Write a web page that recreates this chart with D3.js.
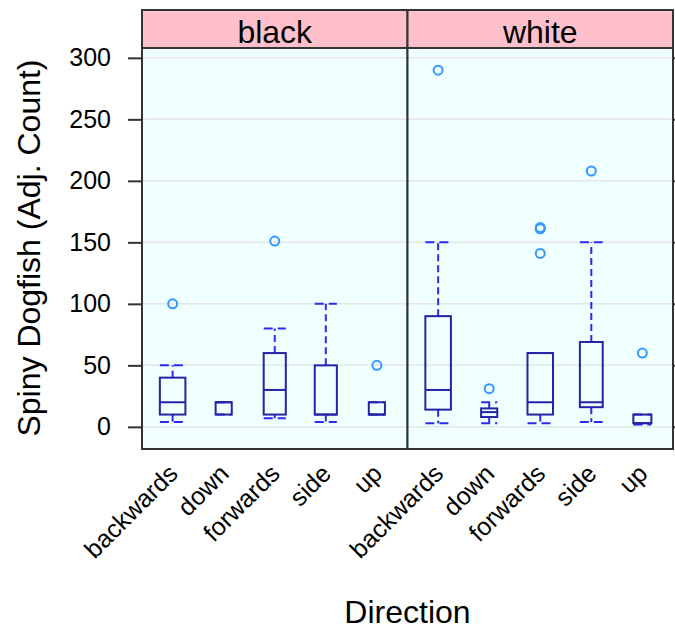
<!DOCTYPE html>
<html>
<head>
<meta charset="utf-8">
<script src="https://cdn.jsdelivr.net/npm/d3@7"></script>
<style>
  body { margin: 0; background: #ffffff; }
  text { font-family: "Liberation Sans", Arial, sans-serif; fill: #000; }
</style>
</head>
<body>
<script>
// ---------- data ----------
const panels = ["black", "white"];
const directions = ["backwards", "down", "forwards", "side", "up"];
const yTicks = [0, 50, 100, 150, 200, 250, 300];

// per panel (black, white), per direction
const whiskerLow  = [[4, 10, 7, 4, 10], [3, 3, 3, 4, 2]];
const quartile1   = [[10, 10, 10, 10, 10], [14, 8, 10, 16, 3]];
const medians     = [[20, 20, 30, 10, 10], [30, 12, 20, 20, 3]];
const quartile3   = [[40, 20, 60, 50, 20], [90, 15, 60, 69, 10]];
const whiskerHigh = [[50, 20, 80, 100, 20], [150, 20, 60, 150, 10]];
const groupCounts = [[20, 8, 15, 15, 8], [20, 8, 20, 16, 10]];
const outliers = [
  [[100], [], [151], [], [50]],
  [[290], [31], [141, 161, 162], [208], [60]]
];

// ---------- layout ----------
const W = 675, H = 633;
const panelLeft = 142, panelRight = 673;
const stripTop = 10, panelTop = 48, panelBottom = 449;
const panelW = (panelRight - panelLeft) / panels.length;

const svg = d3.select("body").append("svg")
  .attr("width", W).attr("height", H);

const y = d3.scaleLinear().domain([-18, 308]).range([panelBottom, panelTop]);
const maxCount = d3.max(groupCounts.flat());

panels.forEach((pname, p) => {
  const x0 = panelLeft + p * panelW;
  const x = d3.scalePoint().domain(directions).range([x0, x0 + panelW]).padding(0.6);
  const unit = x.step();
  const g = svg.append("g");

  // panel background
  g.append("rect").attr("x", x0).attr("y", panelTop)
    .attr("width", panelW).attr("height", panelBottom - panelTop)
    .attr("fill", "#f0ffff");

  // grid lines
  g.selectAll(".grid").data(yTicks).join("line")
    .attr("x1", x0).attr("x2", x0 + panelW)
    .attr("y1", d => y(d)).attr("y2", d => y(d))
    .attr("stroke", "#e6e6e6").attr("stroke-width", 1.5);

  // strip
  g.append("rect").attr("x", x0).attr("y", stripTop)
    .attr("width", panelW).attr("height", panelTop - stripTop)
    .attr("fill", "#ffc0cb").attr("stroke", "#333").attr("stroke-width", 2);
  g.append("text").attr("x", x0 + panelW / 2).attr("y", 43)
    .attr("text-anchor", "middle").attr("font-size", 32).text(pname);

  // boxes
  directions.forEach((dname, i) => {
    const cx = x(dname);
    const bw = 0.5 * unit * Math.sqrt(groupCounts[p][i] / maxCount);
    const bg = g.append("g");
    const dash = "7,4";
    const wcol = "#2b2bf0";
    // whiskers
    bg.append("line").attr("x1", cx).attr("x2", cx)
      .attr("y1", y(quartile3[p][i])).attr("y2", y(whiskerHigh[p][i]))
      .attr("stroke", wcol).attr("stroke-width", 2).attr("stroke-dasharray", dash);
    bg.append("line").attr("x1", cx).attr("x2", cx)
      .attr("y1", y(quartile1[p][i])).attr("y2", y(whiskerLow[p][i]))
      .attr("stroke", wcol).attr("stroke-width", 2).attr("stroke-dasharray", dash);
    [whiskerHigh[p][i], whiskerLow[p][i]].forEach(v => {
      bg.append("line").attr("x1", cx - bw / 2).attr("x2", cx + bw / 2)
        .attr("y1", y(v)).attr("y2", y(v))
        .attr("stroke", wcol).attr("stroke-width", 2).attr("stroke-dasharray", "9,5");
    });
    // box
    bg.append("rect").attr("x", cx - bw / 2).attr("y", y(quartile3[p][i]))
      .attr("width", bw).attr("height", y(quartile1[p][i]) - y(quartile3[p][i]))
      .attr("fill", "none").attr("stroke", "#2323a8").attr("stroke-width", 2);
    bg.append("line").attr("x1", cx - bw / 2).attr("x2", cx + bw / 2)
      .attr("y1", y(medians[p][i])).attr("y2", y(medians[p][i]))
      .attr("stroke", "#2323a8").attr("stroke-width", 2);
    // outliers
    bg.selectAll("circle").data(outliers[p][i]).join("circle")
      .attr("cx", cx).attr("cy", d => y(d)).attr("r", 4.5)
      .attr("fill", "none").attr("stroke", "#3399ff").attr("stroke-width", 2);
  });

  // panel border
  g.append("rect").attr("x", x0).attr("y", panelTop)
    .attr("width", panelW).attr("height", panelBottom - panelTop)
    .attr("fill", "none").attr("stroke", "#333").attr("stroke-width", 2);

  // x axis labels
  const ax = svg.append("g").attr("transform", `translate(0,${panelBottom})`)
    .call(d3.axisBottom(x).tickSize(0));
  ax.select(".domain").remove();
  ax.selectAll("text")
    .attr("x", 0).attr("y", 0).attr("dy", "0.35em")
    .attr("transform", "translate(0,20) rotate(-45)")
    .attr("text-anchor", "end")
    .attr("font-size", 25)
    .attr("font-family", "Liberation Sans, Arial, sans-serif")
    .attr("fill", "#000");
});

// y axis left
const ayl = svg.append("g").attr("transform", `translate(${panelLeft},0)`)
  .call(d3.axisLeft(y).tickValues(yTicks).tickSize(14).tickPadding(17));
ayl.select(".domain").remove();
ayl.selectAll("line").attr("stroke", "#333").attr("stroke-width", 2);
ayl.selectAll("text").attr("font-size", 25)
  .attr("font-family", "Liberation Sans, Arial, sans-serif").attr("fill", "#000");

// y axis right (ticks only)
const ayr = svg.append("g").attr("transform", `translate(${panelRight},0)`)
  .call(d3.axisRight(y).tickValues(yTicks).tickSize(8).tickFormat(""));
ayr.select(".domain").remove();
ayr.selectAll("line").attr("stroke", "#333").attr("stroke-width", 2);

// axis titles
svg.append("text")
  .attr("transform", `translate(40,248) rotate(-90)`)
  .attr("text-anchor", "middle").attr("font-size", 32)
  .text("Spiny Dogfish (Adj. Count)");
svg.append("text")
  .attr("x", (panelLeft + panelRight) / 2).attr("y", 623)
  .attr("text-anchor", "middle").attr("font-size", 32)
  .text("Direction");
</script>
</body>
</html>
